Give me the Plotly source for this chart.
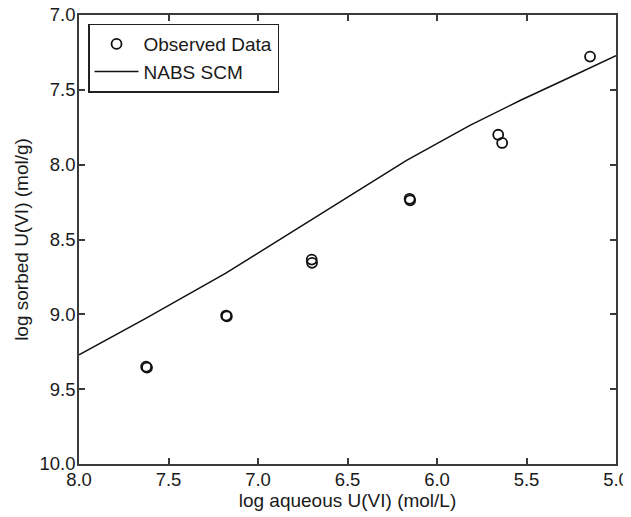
import plotly.graph_objects as go

# Observed data (log aqueous U(VI), log sorbed U(VI))
obs_x = [7.625, 7.620, 7.178, 7.174, 6.700, 6.698, 6.153, 6.150, 5.658, 5.636, 5.145]
obs_y = [9.350, 9.356, 9.008, 9.013, 8.634, 8.656, 8.228, 8.238, 7.800, 7.855, 7.278]

# NABS SCM model curve
scm_x = [8.0, 7.627, 7.182, 6.883, 6.52, 6.17, 5.816, 5.536, 5.257, 5.0]
scm_y = [9.27, 9.027, 8.727, 8.505, 8.23, 7.971, 7.738, 7.571, 7.416, 7.271]

tick_vals = [5.0, 5.5, 6.0, 6.5, 7.0, 7.5, 8.0]
ytick_vals = [7.0, 7.5, 8.0, 8.5, 9.0, 9.5, 10.0]

FONT = "Liberation Sans, Arial, sans-serif"
AX = "#3a3a3a"
TXT = "#1a1a1a"

fig = go.Figure()
fig.add_trace(go.Scatter(
    x=obs_x, y=obs_y, mode="markers", name="Observed Data",
    marker=dict(symbol="circle-open", size=10, color="#111111",
                line=dict(width=1.8, color="#111111")),
))
fig.add_trace(go.Scatter(
    x=scm_x, y=scm_y, mode="lines", name="NABS SCM",
    line=dict(color="#111111", width=1.5),
))

axis_common = dict(
    showline=True, linecolor=AX, linewidth=1.6, mirror="ticks",
    ticks="inside", ticklen=6, tickwidth=1.5, tickcolor=AX,
    showgrid=False, zeroline=False, tickformat=".1f", automargin=False,
    ticklabeloverflow="allow", ticklabelstandoff=-2,
    tickfont=dict(family=FONT, size=18.5, color=TXT),
)

# page body adds an 8px offset, so the figure is 8px smaller than the window
fig.update_layout(
    width=623, height=509,
    margin=dict(l=71, r=15, t=7, b=53),
    paper_bgcolor="white", plot_bgcolor="white",
    font=dict(family=FONT, size=19, color=TXT),
    xaxis=dict(range=[8.0, 5.0], tickvals=tick_vals,
               title=dict(text="log aqueous U(VI) (mol/L)", standoff=1,
                          font=dict(family=FONT, size=19, color=TXT)),
               **axis_common),
    yaxis=dict(range=[10.0, 7.0], tickvals=ytick_vals,
               title=dict(text="log sorbed U(VI) (mol/g)", standoff=6,
                          font=dict(family=FONT, size=19, color=TXT)),
               **axis_common),
    legend=dict(x=0.0168, y=0.981, xanchor="left", yanchor="top",
                bgcolor="white", bordercolor="#222222", borderwidth=1.5,
                font=dict(family=FONT, size=19, color=TXT),
                itemwidth=44, tracegroupgap=0),
    showlegend=True,
)

fig.write_html("out.html")
